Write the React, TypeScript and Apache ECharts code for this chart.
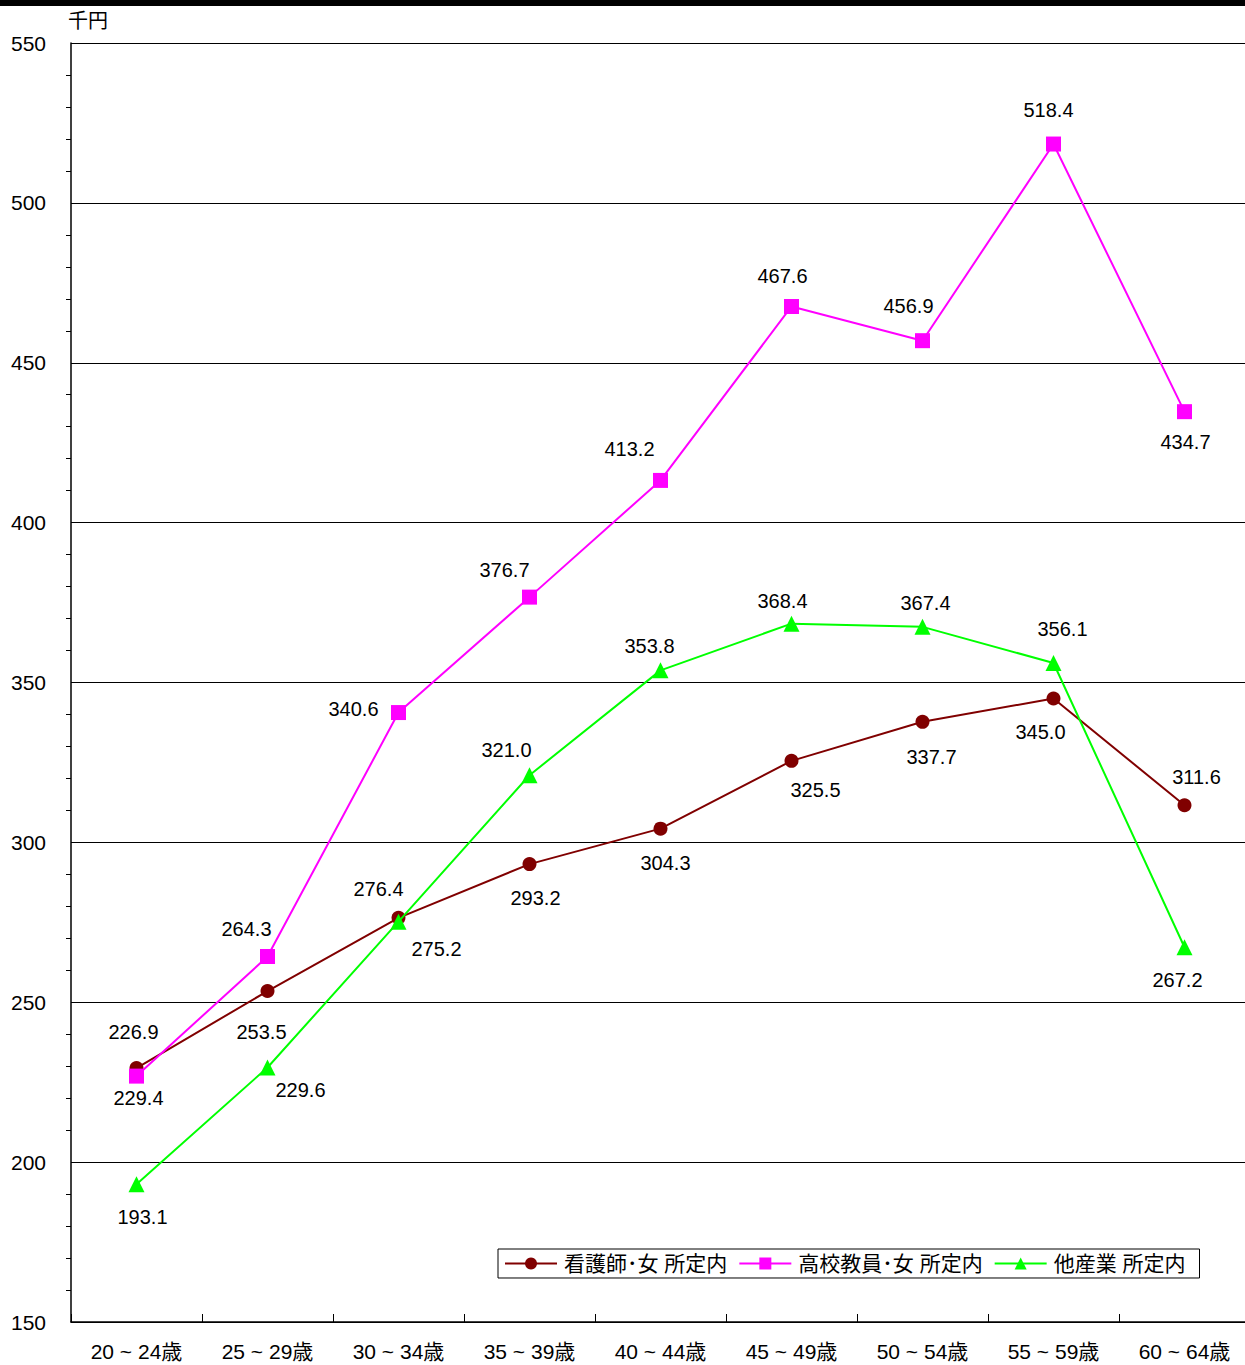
import React, { useEffect, useRef } from "react";
import * as echarts from "echarts";

const categories = ["20 ~ 24歳", "25 ~ 29歳", "30 ~ 34歳", "35 ~ 39歳", "40 ~ 44歳", "45 ~ 49歳", "50 ~ 54歳", "55 ~ 59歳", "60 ~ 64歳"];
const seriesNames = ["看護師･女 所定内", "高校教員･女 所定内", "他産業 所定内"];
const nurse = [229.4, 253.5, 276.4, 293.2, 304.3, 325.5, 337.7, 345.0, 311.6];
const teacher = [226.9, 264.3, 340.6, 376.7, 413.2, 467.6, 456.9, 518.4, 434.7];
const other = [193.1, 229.6, 275.2, 321.0, 353.8, 368.4, 367.4, 356.1, 267.2];
const yTicks = [150, 200, 250, 300, 350, 400, 450, 500, 550];

// label placement (style only)
const nurseOffsets = [[2, 30], [-6, 41], [-20, -29], [6, 34], [5, 34], [24, 29], [9, 35], [-13, 34], [12, -28]];
const teacherOffsets = [[-3, -44], [-21, -28], [-45, -4], [-25, -27], [-31, -31], [-9, -30], [-14, -35], [-5, -34], [1, 30]];
const otherOffsets = [[6, 33], [33, 23], [38, 27], [-23, -25], [-11, -24], [-9, -23], [3, -24], [9, -34], [-7, 33]];

const FONT = "'Liberation Sans', Arial, 'Noto Sans CJK JP', sans-serif";

function build(values: number[], offsets: number[][]) {
  return values.map((v, i) => ({
    value: v,
    label: { offset: offsets[i] },
  }));
}

export default function App() {
  const ref = useRef<HTMLDivElement>(null);
  useEffect(() => {
    document.body.style.margin = "0";
    document.body.style.overflow = "hidden";
    const chart = echarts.init(ref.current!, null, { renderer: "svg" });
    const labelBase = {
      show: true,
      position: "inside" as const,
      color: "#000",
      fontSize: 20,
      fontFamily: FONT,
      formatter: (p: any) => Number(p.value).toFixed(1),
    };
    chart.setOption({
      animation: false,
      backgroundColor: "#fff",
      textStyle: { fontFamily: FONT },
      graphic: [
        { type: "rect", shape: { x: 0, y: 0, width: 1250, height: 6 }, style: { fill: "#000" } },
        { type: "text", x: 68, y: 11, style: { text: "千円", fontSize: 20, fontFamily: FONT, fill: "#000" } },
      ],
      grid: { left: 71, right: 0, top: 43, bottom: 43, containLabel: false },
      legend: {
        left: 498,
        top: 1249,
        orient: "horizontal",
        data: seriesNames,
        itemWidth: 52,
        itemHeight: 15,
        itemGap: 11,
        padding: [4, 14, 4, 6],
        borderColor: "#000",
        borderWidth: 1,
        borderRadius: 0,
        backgroundColor: "#fff",
        textStyle: { fontSize: 21, color: "#000", fontFamily: FONT, padding: [0, 0, 0, 2] },
      },
      xAxis: {
        type: "category",
        data: categories,
        boundaryGap: true,
        axisLine: { lineStyle: { color: "#000", width: 1.5 } },
        axisTick: { show: true, inside: true, length: 8, lineStyle: { color: "#000" } },
        axisLabel: { fontSize: 21, color: "#000", margin: 19, fontFamily: FONT },
        splitLine: { show: false },
      },
      yAxis: {
        type: "value",
        min: yTicks[0],
        max: yTicks[yTicks.length - 1],
        interval: 50,
        axisLine: { show: true, lineStyle: { color: "#000", width: 1.5 } },
        axisTick: { show: false },
        minorTick: { show: true, splitNumber: 5, length: 5, lineStyle: { color: "#000" } },
        axisLabel: { fontSize: 21, color: "#000", margin: 25, fontFamily: FONT },
        splitLine: { show: true, lineStyle: { color: "#000", width: 1 } },
      },
      series: [
        {
          name: seriesNames[0],
          type: "line",
          data: build(nurse, nurseOffsets),
          symbol: "circle",
          symbolSize: 14,
          itemStyle: { color: "#800000" },
          lineStyle: { color: "#800000", width: 2 },
          label: labelBase,
          z: 3,
        },
        {
          name: seriesNames[1],
          type: "line",
          data: build(teacher, teacherOffsets),
          symbol: "rect",
          symbolSize: 15,
          itemStyle: { color: "#FF00FF" },
          lineStyle: { color: "#FF00FF", width: 2 },
          label: labelBase,
          z: 4,
        },
        {
          name: seriesNames[2],
          type: "line",
          data: build(other, otherOffsets),
          symbol: "triangle",
          symbolSize: 16,
          itemStyle: { color: "#00FF00" },
          lineStyle: { color: "#00FF00", width: 2 },
          label: labelBase,
          z: 5,
        },
      ],
    });
    return () => chart.dispose();
  }, []);
  return <div ref={ref} style={{ width: 1250, height: 1365 }} />;
}
